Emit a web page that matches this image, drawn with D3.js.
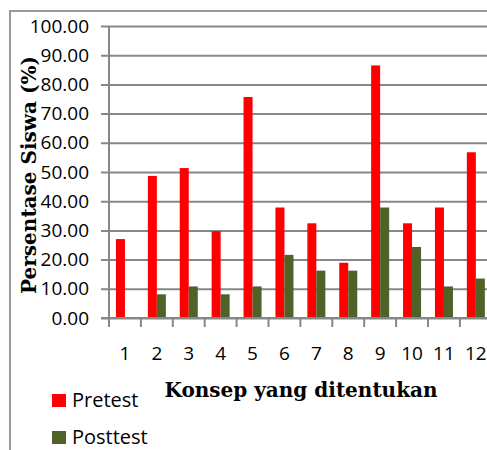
<!DOCTYPE html>
<html>
<head>
<meta charset="utf-8">
<script src="https://cdn.jsdelivr.net/npm/d3@7"></script>
<style>
  html, body { margin: 0; padding: 0; background: #fff; }
  svg { display: block; }
</style>
</head>
<body>
<svg id="chart" width="487" height="450"></svg>
<script>
// Concepts tested (x categories)
const categories = ["1", "2", "3", "4", "5", "6", "7", "8", "9", "10", "11", "12"];
// Percentage of students per concept
const pretest  = [27.03, 48.65, 51.35, 29.73, 75.68, 37.84, 32.43, 18.92, 86.49, 32.43, 37.84, 56.76];
const posttest = [0.00, 8.11, 10.81, 8.11, 10.81, 21.62, 16.22, 16.22, 37.84, 24.32, 10.81, 13.51];
const seriesNames = ["Pretest", "Posttest"];
const seriesColors = ["#ff0000", "#4f6228"];
const yTicks = [0, 10, 20, 30, 40, 50, 60, 70, 80, 90, 100];

const svg = d3.select("#chart");
const sansFont = "'Open Sans', 'Liberation Sans', sans-serif";
const serifFont = "'DejaVu Serif', 'Liberation Serif', serif";
const gridColor = "#878787";

// Outer chart frame (left and top edges)
svg.append("path")
  .attr("d", "M10,450 V11 H487")
  .attr("fill", "none")
  .attr("stroke", "#9a9a9a")
  .attr("stroke-width", 2);

const plot = { left: 109, top: 26, bottom: 318, step: 31.9 };

const x = d3.scaleBand()
  .domain(categories)
  .range([plot.left, plot.left + plot.step * categories.length])
  .paddingInner(0).paddingOuter(0);

const xSub = d3.scaleBand()
  .domain(seriesNames)
  .range([0, x.bandwidth()])
  .paddingInner(0).paddingOuter(0.77);

const y = d3.scaleLinear().domain([0, 100]).range([plot.bottom, plot.top]);

// Horizontal gridlines with y tick labels
const yAxis = d3.axisLeft(y)
  .tickValues(yTicks)
  .tickSize(-(x.range()[1] - plot.left))
  .tickSizeOuter(0)
  .tickPadding(12)
  .tickFormat(d3.format(".2f"));

const gy = svg.append("g")
  .attr("transform", `translate(${plot.left},0)`)
  .call(yAxis);
gy.select(".domain").remove();
gy.selectAll(".tick line")
  .attr("x1", -8)
  .attr("stroke", gridColor)
  .attr("stroke-width", 2);
gy.selectAll(".tick text")
  .attr("x", -20)
  .attr("font-family", sansFont)
  .attr("font-size", 19)
  .attr("fill", "#000");

// Bars
const groups = svg.append("g").selectAll("g")
  .data(categories)
  .join("g")
  .attr("transform", d => `translate(${x(d)},0)`);

groups.selectAll("rect")
  .data((d, i) => [
    { key: "Pretest", value: pretest[i] },
    { key: "Posttest", value: posttest[i] }
  ])
  .join("rect")
  .attr("x", d => xSub(d.key))
  .attr("width", xSub.bandwidth())
  .attr("y", d => y(d.value))
  .attr("height", d => y(0) - y(d.value))
  .attr("fill", d => seriesColors[seriesNames.indexOf(d.key)]);

// Category axis with boundary tick marks
const xAxisLine = svg.append("g");
xAxisLine.append("line")
  .attr("x1", plot.left - 8).attr("x2", x.range()[1])
  .attr("y1", y(0)).attr("y2", y(0))
  .attr("stroke", gridColor).attr("stroke-width", 2);
xAxisLine.append("line")
  .attr("x1", plot.left).attr("x2", plot.left)
  .attr("y1", y(100)).attr("y2", y(0) + 9)
  .attr("stroke", gridColor).attr("stroke-width", 2);
xAxisLine.selectAll("line.bound")
  .data(categories.slice(1))
  .join("line")
  .attr("class", "bound")
  .attr("x1", d => x(d)).attr("x2", d => x(d))
  .attr("y1", y(0)).attr("y2", y(0) + 9)
  .attr("stroke", gridColor).attr("stroke-width", 2);

svg.append("g").selectAll("text")
  .data(categories)
  .join("text")
  .attr("x", d => x(d) + x.bandwidth() / 2)
  .attr("y", 360)
  .attr("text-anchor", "middle")
  .attr("font-family", sansFont)
  .attr("font-size", 19)
  .attr("fill", "#000")
  .text(d => d);

// Axis titles
svg.append("text")
  .attr("x", 301)
  .attr("y", 397)
  .attr("text-anchor", "middle")
  .attr("font-family", serifFont)
  .attr("font-weight", "bold")
  .attr("font-size", 20)
  .attr("fill", "#000")
  .text("Konsep yang ditentukan");

svg.append("text")
  .attr("transform", "translate(36,175) rotate(-90)")
  .attr("text-anchor", "middle")
  .attr("font-family", serifFont)
  .attr("font-weight", "bold")
  .attr("font-size", 20)
  .attr("fill", "#000")
  .text("Persentase Siswa  (%)");

// Legend
const legend = svg.append("g").selectAll("g")
  .data(seriesNames)
  .join("g")
  .attr("transform", (d, i) => `translate(52,${394 + i * 37})`);
legend.append("rect")
  .attr("width", 14).attr("height", 13)
  .attr("fill", (d, i) => seriesColors[i]);
legend.append("text")
  .attr("x", 20).attr("y", 13)
  .attr("font-family", sansFont)
  .attr("font-size", 20)
  .attr("fill", "#000")
  .text(d => d);
</script>
</body>
</html>
